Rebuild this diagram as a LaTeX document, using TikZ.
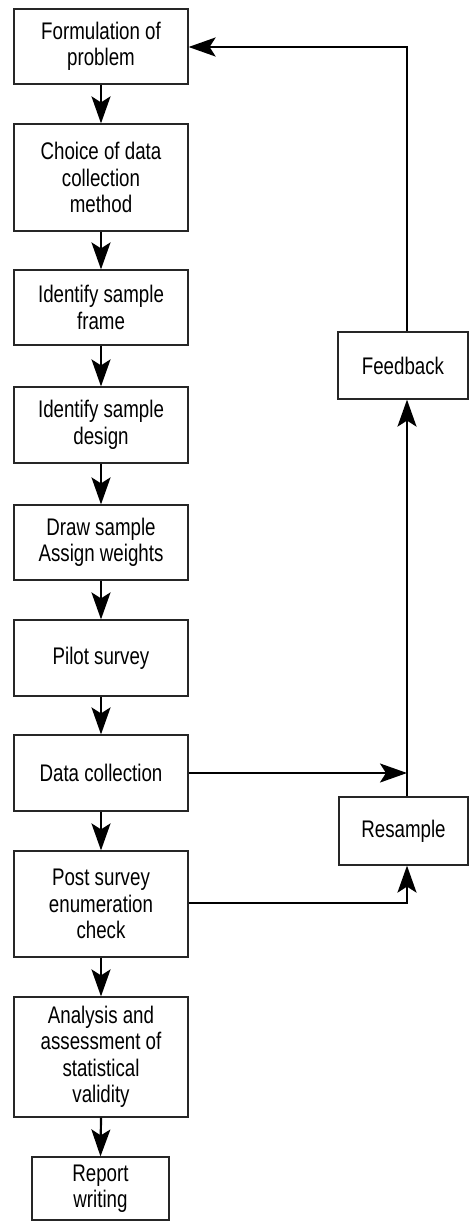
\documentclass[tikz,border=0pt]{standalone}
\usepackage{fontspec}
\setmainfont{Liberation Sans}[FakeStretch=0.78]
\usetikzlibrary{arrows.meta}
\begin{document}
\begin{tikzpicture}[x=1pt,y=-1pt,
  box/.style={draw=black!85,line width=1.2pt,fill=white,align=center,inner sep=0pt,
    font=\fontsize{24}{26.5}\selectfont},
  conn/.style={line width=2.2pt,-{Stealth[length=27pt,width=19pt,inset=6pt]}},
  plain/.style={line width=2.2pt}]
\useasboundingbox (0,0) rectangle (470,1221);
\node[box,minimum width=174pt,minimum height=75pt] (b1) at (101,46.5) {Formulation of\\problem};
\node[box,minimum width=174pt,minimum height=107pt] (b2) at (101,177.5) {Choice of data\\collection\\method};
\node[box,minimum width=174pt,minimum height=75pt] (b3) at (101,307.5) {Identify sample\\frame};
\node[box,minimum width=174pt,minimum height=76pt] (b4) at (101,425) {Identify sample\\design};
\node[box,minimum width=174pt,minimum height=75pt] (b5) at (101,542.5) {Draw sample\\Assign weights};
\node[box,minimum width=174pt,minimum height=76pt] (b6) at (101,658) {Pilot survey};
\node[box,minimum width=174pt,minimum height=76pt] (b7) at (101,773) {Data collection};
\node[box,minimum width=174pt,minimum height=106pt] (b8) at (101,904) {Post survey\\enumeration\\check};
\node[box,minimum width=174pt,minimum height=120pt] (b9) at (101,1057) {Analysis and\\assessment of\\statistical\\validity};
\node[box,minimum width=137pt,minimum height=63pt] (b10) at (100.5,1188.5) {Report\\writing};
\node[box,minimum width=130pt,minimum height=67pt] (fb) at (403,365.5) {Feedback};
\node[box,minimum width=129pt,minimum height=68pt] (rs) at (403.5,831) {Resample};
\coordinate (col) at (407,0);
\coordinate (top) at (407,47);
\coordinate (pj) at (407,903);
\foreach \a/\b in {b1/b2,b2/b3,b3/b4,b4/b5,b5/b6,b6/b7,b7/b8,b8/b9,b9/b10}
  \draw[conn] (\a.south) -- (\b.north);
\draw[conn] (fb.north -| col) -- (top) -- (b1.east |- top);
\draw[conn] (rs.north -| col) -- (fb.south -| col);
\draw[conn] (b7.east) -- (b7.east -| col);
\draw[conn] (b8.east |- pj) -- (pj) -- (rs.south -| col);
\end{tikzpicture}
\end{document}
